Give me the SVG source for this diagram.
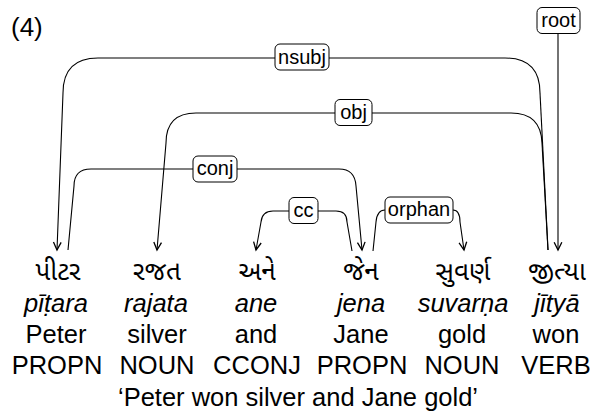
<svg xmlns="http://www.w3.org/2000/svg" width="598" height="412" viewBox="0 0 598 412">
<defs>
<style>
text{font-family:"Liberation Sans",Arial,Helvetica,sans-serif;fill:#000}
.w{font-size:25.5px;text-anchor:middle}
.g{font-family:"Noto Sans Gujarati","Lohit Gujarati","Shruti","Noto Sans","DejaVu Sans",sans-serif;font-size:26px;text-anchor:middle}
.i{font-style:italic}
.lab{font-size:20px;text-anchor:middle}
.box{fill:#fff;stroke:#000;stroke-width:1}
.e{fill:none;stroke:#000;stroke-width:1.1}
.a{marker-end:url(#arr)}
</style>
<marker id="arr" markerUnits="userSpaceOnUse" markerWidth="12" markerHeight="12" viewBox="-8 -5 10 10" refX="0" refY="0" orient="auto">
<path d="M-6.5,-3.2 L0,0 L-6.5,3.2" fill="none" stroke="#000" stroke-width="1.1"/>
</marker>
</defs>
<rect width="598" height="412" fill="#fff"/>
<text x="11" y="36" style="font-size:26px">(4)</text>
<g id="connectors">
<path class="e a" d="M540,93 Q540,58 505,58 L98,58 Q63,58 63,93 L57,250"/>
<path class="e" d="M540,93 L548,250"/>
<path class="e a" d="M542,143 Q541,113 511,113 L196,113 Q166,113 166,143 L157,250"/>
<path class="e" d="M542,143 L548,250"/>
<path class="e a" d="M68,250 L74,186 Q74,169 91,169 L339,169 Q355,169 356,186 L362,250"/>
<path class="e a" d="M289,211 L273,211 Q262,211 261,222 L256,250"/>
<path class="e" d="M318,211 L336,211 Q347,211 347,222 L352,251"/>
<path class="e" d="M385,210 Q377,210 376,222 L373,251"/>
<path class="e a" d="M453,210 Q460,210 460,222 L464,250"/>
<path class="e a" d="M558,33 L558,250"/>
<rect class="box" x="275" y="44" width="54" height="26" rx="5"/>
<text class="lab" x="302" y="63.5">nsubj</text>
<rect class="box" x="335" y="99.5" width="37" height="26" rx="5"/>
<text class="lab" x="353.5" y="119">obj</text>
<rect class="box" x="193" y="156" width="44" height="26" rx="5"/>
<text class="lab" x="215" y="175">conj</text>
<rect class="box" x="289" y="197.5" width="29" height="26" rx="5"/>
<text class="lab" x="303.5" y="216.5">cc</text>
<rect class="box" x="385" y="197" width="68" height="26" rx="5"/>
<text class="lab" x="419" y="216">orphan</text>
<rect class="box" x="537" y="7.5" width="43" height="26" rx="5"/>
<text class="lab" x="558.5" y="26.5">root</text>
</g>
<g id="w1">
<text class="g" x="58" y="280">પીટર</text>
<text class="w i" x="56" y="312">pīṭara</text>
<text class="w" x="56" y="343">Peter</text>
<text class="w" x="57" y="374">PROPN</text>
</g>
<g id="w2">
<text class="g" x="157" y="280">રજત</text>
<text class="w i" x="156" y="312">rajata</text>
<text class="w" x="157" y="343">silver</text>
<text class="w" x="157" y="374">NOUN</text>
</g>
<g id="w3">
<text class="g" x="257" y="280">અને</text>
<text class="w i" x="256" y="312">ane</text>
<text class="w" x="256" y="343">and</text>
<text class="w" x="257" y="374">CCONJ</text>
</g>
<g id="w4">
<text class="g" x="361" y="280">જેન</text>
<text class="w i" x="361" y="312">jena</text>
<text class="w" x="361" y="343">Jane</text>
<text class="w" x="362" y="374">PROPN</text>
</g>
<g id="w5">
<text class="g" x="463" y="280">સુવર્ણ</text>
<text class="w i" x="463" y="312">suvarṇa</text>
<text class="w" x="462" y="343">gold</text>
<text class="w" x="462" y="374">NOUN</text>
</g>
<g id="w6">
<text class="g" x="557" y="280">જીત્યા</text>
<text class="w i" x="557" y="312">jītyā</text>
<text class="w" x="556" y="343">won</text>
<text class="w" x="556" y="374">VERB</text>
</g>
<text class="w" x="298" y="406">‘Peter won silver and Jane gold’</text>
</svg>
